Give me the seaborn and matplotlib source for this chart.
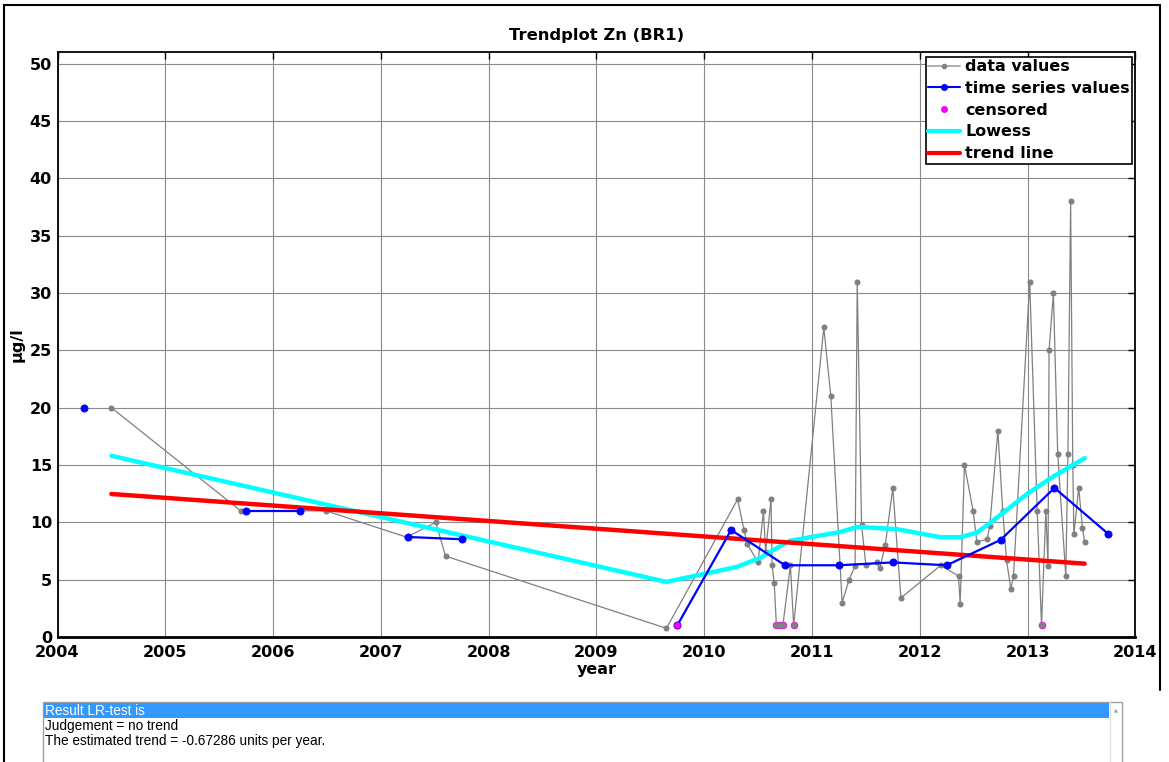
import numpy as np
import pandas as pd
import matplotlib
matplotlib.use("Agg")
import matplotlib.pyplot as plt
from matplotlib.lines import Line2D
from matplotlib.patches import Rectangle
import seaborn as sns

# ---------------- data ----------------
data_years = [2004.50, 2005.70, 2006.49, 2007.24, 2007.51, 2007.60, 2009.65,
              2010.31, 2010.37, 2010.40, 2010.50, 2010.55, 2010.57, 2010.62, 2010.63,
              2010.65, 2010.67, 2010.70, 2010.73, 2010.80, 2010.83,
              2011.11, 2011.175, 2011.28, 2011.345, 2011.40, 2011.42, 2011.46, 2011.50,
              2011.60, 2011.63, 2011.68, 2011.75, 2011.825,
              2012.195, 2012.36, 2012.375, 2012.415, 2012.495, 2012.53, 2012.625, 2012.65,
              2012.725, 2012.77, 2012.805, 2012.845, 2012.87,
              2013.02, 2013.09, 2013.13, 2013.17, 2013.19, 2013.20, 2013.24, 2013.28,
              2013.355, 2013.375, 2013.40, 2013.42, 2013.43, 2013.475, 2013.51, 2013.53]
data_values = [20, 11, 11, 8.7, 10, 7.05, 0.75,
               12, 9.3, 8.1, 6.5, 11, 7.4, 12, 6.25,
               4.7, 1, 1, 1, 6.25, 1,
               27, 21, 3.0, 5.0, 6.2, 31, 9.8, 6.25,
               6.5, 6.0, 8.0, 13, 3.4,
               6.25, 5.3, 2.9, 15, 11, 8.3, 8.5, 9.7,
               18, 11, 6.7, 4.2, 5.3,
               31, 11, 1, 11, 6.2, 25, 30, 16,
               5.3, 16, 38, 15, 8.95, 13, 9.5, 8.3]
data_censored = [0, 0, 0, 0, 0, 0, 0,
                 0, 0, 0, 0, 0, 0, 0, 0,
                 0, 1, 1, 1, 0, 1,
                 0, 0, 0, 0, 0, 0, 0, 0,
                 0, 0, 0, 0, 0,
                 0, 0, 0, 0, 0, 0, 0, 0,
                 0, 0, 0, 0, 0,
                 0, 0, 1, 0, 0, 0, 0, 0,
                 0, 0, 0, 0, 0, 0, 0, 0]

ts_years = [2004.25, 2004.75, 2005.25, 2005.75, 2006.25, 2006.75, 2007.25, 2007.75,
            2008.25, 2008.75, 2009.25, 2009.75, 2010.25, 2010.75, 2011.25, 2011.75,
            2012.25, 2012.75, 2013.25, 2013.75]
ts_values = [20, np.nan, np.nan, 11.0, 11.0, np.nan, 8.72, 8.52,
             np.nan, np.nan, np.nan, 1.0, 9.33, 6.25, 6.25, 6.5,
             6.25, 8.46, 13.0, 8.98]
ts_censored = [0, 0, 0, 0, 0, 0, 0, 0,
               0, 0, 0, 1, 0, 0, 0, 0,
               0, 0, 0, 0]

lowess_years = [2004.50, 2009.65, 2010.00, 2010.30, 2010.52, 2010.72, 2010.80, 2011.26,
                2011.42, 2011.79, 2012.19, 2012.38, 2012.53, 2012.66, 2013.00, 2013.24, 2013.53]
lowess_values = [15.8, 4.8, 5.5, 6.1, 6.9, 8.0, 8.4, 9.15,
                 9.6, 9.4, 8.7, 8.7, 9.1, 10.0, 12.5, 14.0, 15.6]

trend_years = [2004.50, 2013.53]
trend_values = [12.47, 6.39]

x_ticks = list(range(2004, 2015))
y_ticks = list(range(0, 51, 5))

title = "Trendplot Zn (BR1)"
x_label = "year"
y_label = "µg/l"
legend_labels = ["data values", "time series values", "censored", "Lowess", "trend line"]
result_lines = ["Result LR-test is", "Judgement = no trend",
                "The estimated trend = -0.67286 units per year."]

# ---------------- figure ----------------
sns.set_style("white")
plt.rcParams['font.family'] = ['DejaVu Sans']
plt.rcParams['text.color'] = 'black'
plt.rcParams['axes.labelcolor'] = 'black'

W, H = 1169, 762
fig = plt.figure(figsize=(W / 100, H / 100), dpi=100)
fig.patch.set_facecolor("white")

ax_l, ax_r, ax_t, ax_b = 57.5, 1135.3, 52.4, 636.9
ax = fig.add_axes([ax_l / W, 1 - ax_b / H, (ax_r - ax_l) / W, (ax_b - ax_t) / H])

GRAY = "#808080"
BLUE = "#0000FF"
MAG = "#FF00FF"
CYAN = "#00FFFF"
RED = "#FF0000"

df_data = pd.DataFrame({"year": data_years, "value": data_values, "cens": data_censored})
df_ts = pd.DataFrame({"year": ts_years, "value": ts_values, "cens": ts_censored})
df_ts["seg"] = df_ts["value"].isna().cumsum()
df_ts_valid = df_ts.dropna()
df_low = pd.DataFrame({"year": lowess_years, "value": lowess_values})
df_trend = pd.DataFrame({"year": trend_years, "value": trend_values})

# censored data markers (magenta rim beneath gray markers)
cd = df_data[df_data["cens"] == 1]
sns.scatterplot(data=cd, x="year", y="value", ax=ax, color=MAG, s=30,
                edgecolor=MAG, linewidth=0, zorder=3)

# data values
sns.lineplot(data=df_data, x="year", y="value", ax=ax, color=GRAY, lw=0.9,
             marker="o", markersize=3.6, markeredgecolor=GRAY, markerfacecolor=GRAY,
             sort=False, estimator=None, zorder=4)

# lowess and trend
sns.lineplot(data=df_low, x="year", y="value", ax=ax, color=CYAN, lw=3.2,
             sort=False, estimator=None, zorder=5)
sns.lineplot(data=df_trend, x="year", y="value", ax=ax, color=RED, lw=3.2,
             sort=False, estimator=None, zorder=5)

# time series values
sns.lineplot(data=df_ts_valid, x="year", y="value", units="seg", ax=ax, color=BLUE,
             lw=1.6, marker="o", markersize=5, markeredgecolor=BLUE,
             sort=False, estimator=None, zorder=6)
tc = df_ts_valid[df_ts_valid["cens"] == 1]
sns.scatterplot(data=tc, x="year", y="value", ax=ax, color=MAG, s=22,
                edgecolor=MAG, linewidth=0, zorder=7)

ax.set_xlim(2004, 2014)
ax.set_ylim(0, 51)
ax.set_xticks(x_ticks)
ax.set_yticks(y_ticks)
ax.set_xticklabels([str(t) for t in x_ticks], fontsize=11.5, fontweight="bold")
ax.set_yticklabels([str(t) for t in y_ticks], fontsize=11.5, fontweight="bold")
ax.tick_params(direction="in", length=5, width=1, top=True, right=True,
               colors="black", pad=4)
ax.tick_params(axis="x", pad=6)
ax.grid(True, color="#8a8a8a", lw=0.8, ls="-", zorder=0)
ax.set_axisbelow(True)
for s in ax.spines.values():
    s.set_visible(True)
    s.set_color("black")
    s.set_linewidth(1.3)
ax.spines["bottom"].set_linewidth(2.0)

ax.set_title(title, fontsize=11.8, fontweight="bold", pad=9, color="black")
ax.set_xlabel(x_label, fontsize=11.5, fontweight="bold", labelpad=1, color="black")
ax.set_ylabel(y_label, fontsize=11.5, fontweight="bold", labelpad=4, color="black")

handles = [
    Line2D([], [], color="#a0a0a0", lw=1.2, marker="o", markersize=3, markerfacecolor=GRAY, markeredgecolor=GRAY),
    Line2D([], [], color=BLUE, lw=1.5, marker="o", markersize=4, markerfacecolor=BLUE, markeredgecolor=BLUE),
    Line2D([], [], color="none", lw=0, marker="o", markersize=4, markerfacecolor=MAG, markeredgecolor=MAG),
    Line2D([], [], color=CYAN, lw=3),
    Line2D([], [], color=RED, lw=3),
]
leg = ax.legend(handles, legend_labels, loc="upper right", bbox_to_anchor=(0.9985, 0.995),
                prop={"weight": "bold", "size": 11.5}, frameon=True, fancybox=False,
                edgecolor="black", framealpha=1, borderpad=0.15, labelspacing=0.42,
                handlelength=2.0, handletextpad=0.3, borderaxespad=0.1)
leg.get_frame().set_linewidth(1.2)
leg.set_zorder(10)
for t in leg.get_texts():
    t.set_color("black")

# outer window border
fig.add_artist(Line2D([4 / W, 4 / W], [0, 1 - 5 / H], transform=fig.transFigure, color="black", lw=1.5))
fig.add_artist(Line2D([4 / W, 1160 / W], [1 - 5 / H, 1 - 5 / H], transform=fig.transFigure, color="black", lw=1.5))
fig.add_artist(Line2D([1160 / W, 1160 / W], [1 - 5 / H, 1 - 690 / H], transform=fig.transFigure, color="black", lw=1.5))

# result listbox
def fx(px):
    return px / W

def fy(py):
    return 1 - py / H

fig.add_artist(Rectangle((fx(43), fy(763)), fx(1122) - fx(43), fy(702) - fy(763),
                         transform=fig.transFigure, facecolor="white", edgecolor="#a0a0a0", lw=1))
fig.add_artist(Rectangle((fx(44), fy(718)), fx(1109) - fx(44), fy(703) - fy(718),
                         transform=fig.transFigure, facecolor="#3399FF", edgecolor="none"))
fig.add_artist(Line2D([fx(1110), fx(1110)], [fy(763), fy(702)], transform=fig.transFigure,
                      color="#e0e0e0", lw=1))
fig.text(fx(1116), fy(710), "▲", fontsize=3.5, color="#909090", ha="center", va="center")

txt_font = ["Liberation Sans Narrow", "Liberation Sans", "DejaVu Sans"]
ys = [711, 726, 741]
cols = ["white", "black", "black"]
for line, yy, c in zip(result_lines, ys, cols):
    fig.text(fx(45), fy(yy), line, fontsize=9.8, color=c, ha="left", va="center",
             family=txt_font)

fig.savefig("out.png", dpi=100)
